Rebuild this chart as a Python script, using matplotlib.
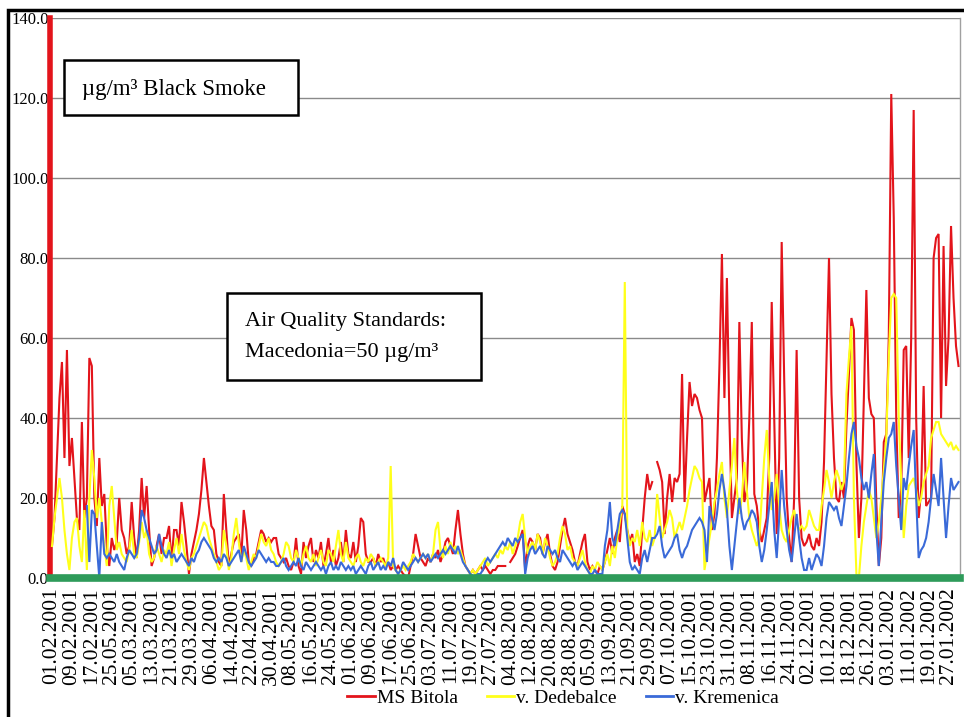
import numpy as np
import pandas as pd
import matplotlib
matplotlib.use('Agg')
import matplotlib.pyplot as plt
from matplotlib.patches import Rectangle
from matplotlib.lines import Line2D

nan = np.nan

# daily values 01.02.2001 - 31.01.2002
days = pd.date_range('2001-02-01', '2002-01-31', freq='D')

bitola = [
    # feb
    8, 15, 30, 45, 54, 30, 57, 28, 35, 25, 15, 12, 39, 15, 20, 55, 53, 20, 13, 30,
    18, 21, 8, 3, 10, 7, 9, 20,
    # mar
    12, 10, 6, 8, 19, 10, 5, 12, 25, 15, 23, 12, 3, 5, 8, 11, 6, 10, 10, 13,
    4, 12, 12, 8, 19, 14, 8, 1, 6, 9, 12,
    # apr
    16, 22, 30, 24, 18, 13, 12, 6, 4, 3, 21, 12, 3, 6, 9, 10, 11, 5, 17, 12,
    4, 3, 5, 6, 9, 12, 11, 9, 10, 9,
    # may
    10, 10, 6, 5, 4, 5, 3, 2, 4, 10, 3, 1, 9, 5, 8, 10, 4, 7, 5, 9,
    3, 6, 10, 4, 7, 3, 5, 9, 4, 12, 6,
    # jun
    5, 9, 4, 8, 15, 14, 6, 4, 4, 5, 3, 6, 4, 5, 3, 4, 2, 3, 2, 3,
    2, 1, 0.5, 0, 3, 6, 11, 8, 5, 4,
    # jul
    3, 5, 4, 6, 5, 7, 4, 6, 9, 10, 8, 6, 12, 17, 11, 6, 3, 2, 1, 2,
    1, 2, 3, 2, 3, 2, 1, 2, 2, 3, 3,
    # aug
    3, 3, nan, 4, 5, 6, 8, 10, 12, 2, 8, 10, 9, 7, 11, 10, 6, 9, 11, 6,
    3, 2, 4, 8, 12, 15, 11, 9, 7, 4, 3,
    # sep
    6, 9, 11, 4, 2, 3, 2, 1, 3, 2, 4, 7, 10, 6, 10, 12, 9, 18, 16, 12,
    9, 11, 4, 6, 3, 12, 20, 26, 22, 24,
    # oct
    nan, 29, 27, 24, 11, 20, 26, 19, 25, 24, 26, 51, 19, 35, 49, 43, 46, 45, 42, 40,
    19, 22, 25, 12, 16, 30, 53, 81, 45, 75, 40,
    # nov
    15, 20, 25, 64, 35, 19, 22, 40, 64, 21, 18, 12, 9, 12, 15, 30, 69, 40, 11, 30,
    84, 50, 20, 10, 4, 20, 57, 20, 10, 8,
    # dec
    9, 11, 8, 7, 10, 8, 14, 29, 55, 80, 46, 30, 20, 19, 24, 20, 38, 51, 65, 62,
    29, 10, 20, 45, 72, 45, 41, 40, 19, 3, 10,
    # jan
    34, 36, 60, 121, 90, 40, 15, 22, 57, 58, 30, 60, 117, 40, 15, 22, 48, 18, 19, 20,
    80, 85, 86, 40, 83, 48, 60, 88, 70, 58, 53,
]

dedebalce = [
    # feb
    8, 15, 20, 25, 20, 12, 6, 2, 10, 14, 15, 8, 4, 17, 2, 20, 32, 25, 15, 20,
    14, 8, 3, 18, 23, 15, 7, 9,
    # mar
    6, 5, 4, 7, 12, 6, 5, 9, 14, 10, 12, 6, 4, 5, 8, 6, 4, 7, 6, 9,
    3, 7, 10, 6, 11, 7, 4, 2, 5, 6, 8,
    # apr
    10, 12, 14, 13, 10, 8, 6, 4, 2, 3, 12, 8, 2, 5, 11, 15, 9, 4, 7, 5,
    2, 4, 6, 5, 8, 11, 9, 8, 10, 7,
    # may
    6, 4, 3, 4, 6, 9, 8, 5, 4, 7, 5, 3, 6, 8, 5, 4, 6, 3, 5, 7,
    4, 3, 7, 6, 4, 8, 12, 6, 4, 9, 5,
    # jun
    4, 3, 5, 6, 4, 3, 5, 4, 6, 5, 3, 4, 5, 4, 3, 5, 28, 3, 2, 1,
    2, 3, 2, 3, 4, 6, 5, 4, 5, 6,
    # jul
    5, 6, 4, 6, 12, 14, 7, 5, 8, 6, 9, 7, 8, 6, 7, 5, 3, 2, 1, 2,
    1, 2, 3, 4, 5, 3, 4, 5, 6, 5, 7,
    # aug
    6, 8, 7, 9, 6, 8, 10, 14, 16, 10, 6, 8, 9, 7, 11, 9, 6, 10, 8, 5,
    3, 4, 6, 10, 13, 11, 7, 8, 5, 4, 3,
    # sep
    5, 7, 4, 2, 1, 3, 2, 4, 3, 2, 4, 6, 3, 8, 5, 10, 14, 18, 74, 12,
    8, 10, 9, 12, 8, 14, 10, 9, 12, 8,
    # oct
    10, 21, 15, 10, 12, 14, 17, 15, 10, 12, 14, 12, 15, 18, 22, 25, 28, 27, 25, 24,
    2, 6, 10, 14, 19, 22, 26, 29, 20, 15, 22,
    # nov
    28, 35, 22, 16, 20, 29, 22, 15, 12, 10, 8, 10, 20, 30, 37, 25, 17, 20, 26, 18,
    12, 10, 9, 12, 15, 17, 14, 12, 13, 12,
    # dec
    13, 17, 15, 13, 12, 12, 18, 22, 27, 24, 20, 24, 27, 25, 22, 24, 46, 55, 63, 20,
    1, 0, 8, 14, 18, 22, 20, 15, 10, 14, 20,
    # jan
    27, 35, 55, 70, 71, 70, 40, 24, 10, 18, 23, 24, 25, 22, 18, 20, 24, 26, 28, 35,
    37, 39, 39, 36, 35, 34, 33, 34, 32, 33, 32,
]

kremenica = [
    # feb
    nan, nan, nan, nan, nan, nan, nan, nan, nan, nan, nan, nan, nan, nan, 18, 4, 17, 16, 8, 0,
    14, 6, 5, 6, 5, 4, 6, 4,
    # mar
    3, 2, 5, 7, 6, 5, 6, 10, 17, 15, 12, 10, 8, 6, 7, 11, 8, 6, 5, 7,
    5, 6, 4, 5, 6, 5, 4, 3, 5, 4, 6,
    # apr
    7, 9, 10, 9, 8, 7, 5, 4, 5, 4, 6, 5, 3, 4, 5, 6, 7, 4, 8, 6,
    4, 3, 4, 5, 7, 6, 5, 4, 5, 4,
    # may
    4, 3, 3, 4, 5, 3, 2, 3, 4, 3, 5, 3, 2, 4, 3, 2, 3, 4, 3, 2,
    3, 1, 3, 4, 2, 3, 2, 4, 3, 2, 3,
    # jun
    2, 3, 1, 2, 3, 2, 1, 3, 4, 2, 3, 4, 2, 3, 2, 4, 3, 5, 2, 1,
    2, 4, 3, 2, 3, 4, 5, 4, 5, 6,
    # jul
    5, 6, 4, 5, 6, 5, 6, 7, 6, 7, 8, 7, 6, 8, 6, 4, 3, 2, 1, 0.5,
    0.5, 1, 1, 2, 4, 5, 4, 5, 6, 7, 8,
    # aug
    9, 8, 10, 9, 8, 10, 9, 10, 11, 1, 5, 7, 8, 6, 7, 8, 6, 5, 8, 7,
    6, 7, 5, 4, 7, 6, 5, 4, 3, 4, 2,
    # sep
    3, 4, 3, 2, 1, 1, 2, 1, 1, 1, 8, 12, 19, 10, 8, 12, 16, 17, 16, 10,
    4, 2, 3, 2, 1, 5, 7, 4, 7, 10,
    # oct
    10, 11, 13, 8, 5, 6, 7, 8, 10, 11, 7, 5, 7, 8, 10, 12, 13, 14, 15, 14,
    12, 4, 18, 15, 12, 16, 22, 26, 22, 17, 8,
    # nov
    2, 8, 14, 20, 15, 12, 14, 15, 17, 16, 14, 8, 4, 7, 12, 18, 24, 12, 5, 15,
    27, 18, 12, 7, 4, 10, 16, 10, 5, 2,
    # dec
    2, 5, 2, 4, 6, 5, 3, 8, 15, 19, 18, 17, 18, 15, 13, 18, 23, 30, 36, 39,
    33, 30, 25, 22, 24, 20, 26, 31, 12, 3, 14,
    # jan
    24, 30, 35, 36, 39, 28, 20, 12, 25, 22, 28, 33, 37, 20, 5, 7, 8, 10, 14, 20,
    26, 22, 18, 30, 20, 10, 18, 25, 22, 23, 24,
]

# every 8th day is labelled (25.05 is a typo in the original, kept as is)
tick_labels = ['01.02.2001', '09.02.2001', '17.02.2001', '25.05.2001', '05.03.2001',
               '13.03.2001', '21.03.2001', '29.03.2001', '06.04.2001', '14.04.2001',
               '22.04.2001', '30.04.2001', '08.05.2001', '16.05.2001', '24.05.2001',
               '01.06.2001', '09.06.2001', '17.06.2001', '25.06.2001', '03.07.2001',
               '11.07.2001', '19.07.2001', '27.07.2001', '04.08.2001', '12.08.2001',
               '20.08.2001', '28.08.2001', '05.09.2001', '13.09.2001', '21.09.2001',
               '29.09.2001', '07.10.2001', '15.10.2001', '23.10.2001', '31.10.2001',
               '08.11.2001', '16.11.2001', '24.11.2001', '02.12.2001', '10.12.2001',
               '18.12.2001', '26.12.2001', '03.01.2002', '11.01.2002', '19.01.2002',
               '27.01.2002']

series_names = ['MS Bitola', 'v. Dedebalce', 'v. Kremenica']
colors = ['#e3141b', '#ffff1a', '#3a6ad8']

df = pd.DataFrame({'MS Bitola': bitola, 'v. Dedebalce': dedebalce,
                   'v. Kremenica': kremenica}, index=days)
x = np.arange(len(df))

serif = 'Liberation Serif'
W, H = 964, 717
fig = plt.figure(figsize=(W / 100, H / 100), dpi=100)
ax = fig.add_axes([50 / W, 1 - 578 / H, 910 / W, 560 / H])

for name, c in zip(series_names, colors):
    ax.plot(x, df[name].values, color=c, lw=1.5, solid_joinstyle='miter', zorder=3)

ax.set_xlim(-0.8, 364.6)
ax.set_ylim(0, 140)
ax.set_yticks(np.arange(0, 141, 20))
ax.set_yticklabels(['%.1f' % v for v in np.arange(0, 141, 20)],
                   fontsize=12, family=serif)
ax.set_xticks(x[::8])
ax.set_xticklabels(tick_labels, rotation=90, fontsize=15.5, family=serif)
ax.tick_params(axis='both', length=0)
ax.tick_params(axis='y', pad=1)
ax.tick_params(axis='x', pad=7)
ax.yaxis.grid(True, color='#8a8a8a', lw=1)
ax.set_axisbelow(True)

ax.spines['left'].set_color('#e3141b')
ax.spines['left'].set_linewidth(4)
ax.spines['bottom'].set_color('#2e9b5a')
ax.spines['bottom'].set_linewidth(5.5)
ax.spines['bottom'].set_zorder(5)
ax.spines['right'].set_color('#a0a0a0')
ax.spines['right'].set_linewidth(1)
ax.spines['top'].set_visible(False)

# outer frame of the picture
fig.patches.append(Rectangle((8 / W, -0.05), 1.0, 1 - 10 / H + 0.05, transform=fig.transFigure,
                             fill=False, edgecolor='black', lw=2.5))

# text boxes
fig.patches.append(Rectangle((64 / W, 1 - 115 / H), 234 / W, 55 / H, transform=fig.transFigure,
                             facecolor='white', edgecolor='black', lw=1.8, zorder=6))
fig.text(82 / W, 1 - 89 / H, 'µg/m³ Black Smoke', fontsize=16.5, family=serif,
         va='center', zorder=7)

fig.patches.append(Rectangle((227 / W, 1 - 380 / H), 254 / W, 87 / H, transform=fig.transFigure,
                             facecolor='white', edgecolor='black', lw=1.8, zorder=6))
fig.text(245 / W, 1 - 322 / H, 'Air Quality Standards:', fontsize=16, family=serif,
         va='center', zorder=7)
fig.text(245 / W, 1 - 353 / H, 'Macedonia=50 µg/m³', fontsize=16, family=serif,
         va='center', zorder=7)

handles = [Line2D([], [], color=c, lw=2) for c in colors]
fig.legend(handles, series_names, loc='center', bbox_to_anchor=(563 / W, 1 - 698 / H),
           ncol=3, frameon=False, prop={'family': serif, 'size': 14},
           handlelength=1.4, handletextpad=0.1, columnspacing=1.5)

fig.savefig('out.png', dpi=100)
